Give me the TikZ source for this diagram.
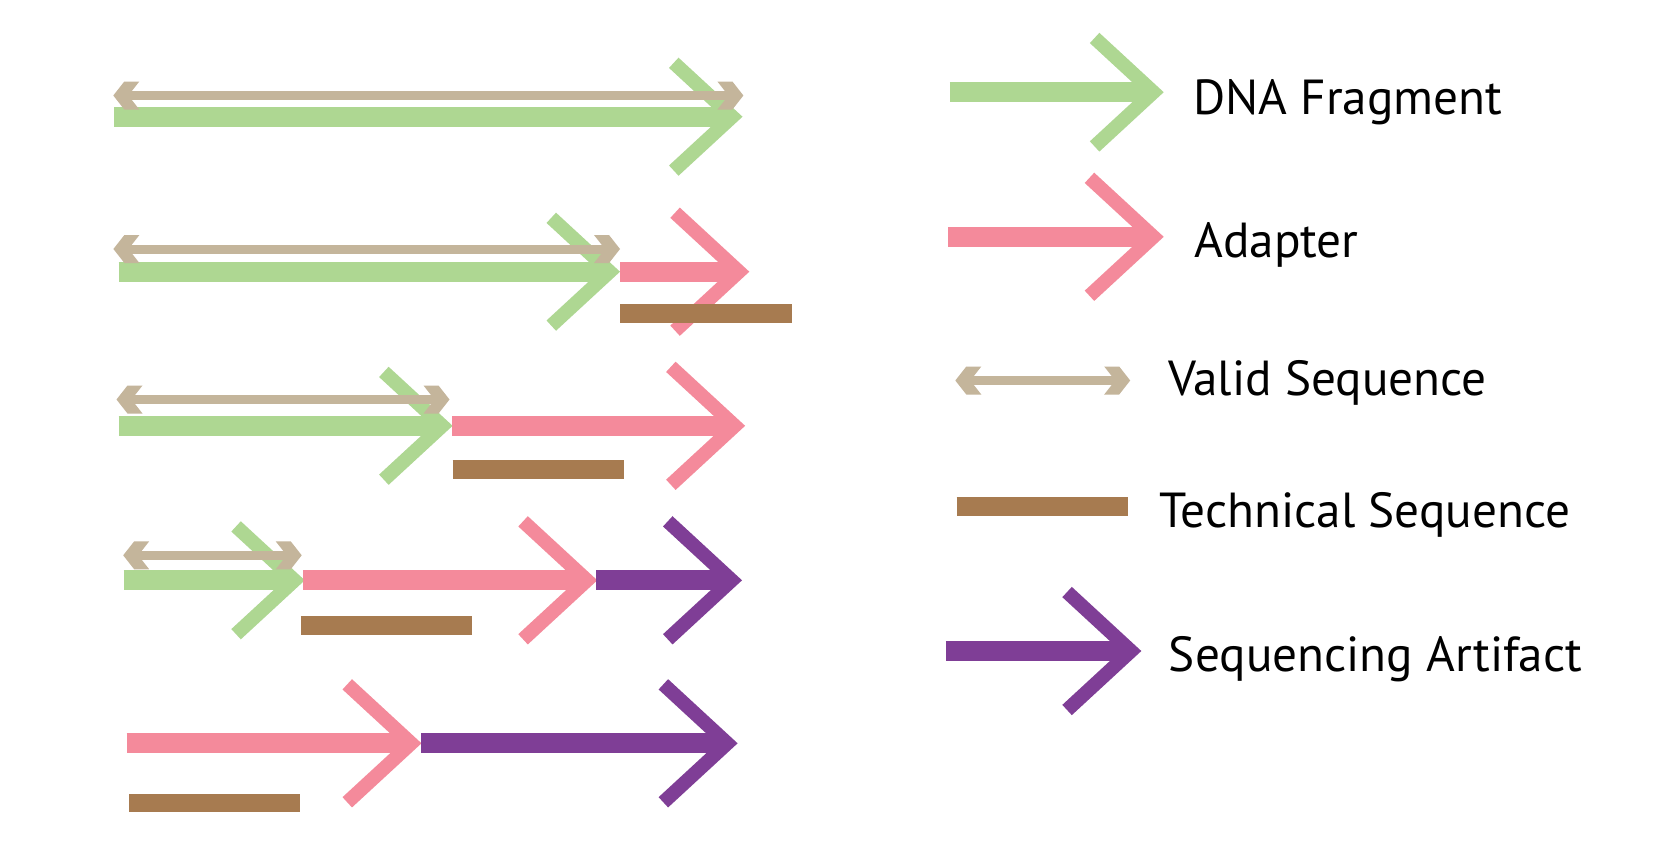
\documentclass[tikz,border=0pt]{standalone}
\usepackage{fontspec}
\setmainfont{PT Sans}
\definecolor{dnagreen}{RGB}{174,215,146}
\definecolor{adpink}{RGB}{244,138,155}
\definecolor{validtan}{RGB}{196,181,155}
\definecolor{techbrown}{RGB}{167,123,80}
\definecolor{artpurple}{RGB}{127,62,150}
\tikzset{
  shaftline/.style={line width=5.69pt, line cap=butt},
  chevline/.style={line width=3.98pt, line cap=butt, line join=miter},
  validline/.style={line width=2.56pt, line cap=butt, draw=validtan},
  techline/.style={line width=5.35pt, line cap=butt, draw=techbrown},
  legendtext/.style={anchor=base west, inner sep=0pt, font=\fontsize{14pt}{16pt}\selectfont}
}
% #1 colour, #2 start x, #3 tip x, #4 y, #5 arm length
\newcommand\dnaseg[5]{%
  \draw[shaftline, draw=#1] (#2,#4) -- ({#3-15},#4);
  \draw[chevline, draw=#1] ({#3-10.3-#5*0.735},{#4-#5*0.678}) -- ({#3-10.3},#4) -- ({#3-10.3-#5*0.735},{#4+#5*0.678});
}
% #1 left tip x, #2 right tip x, #3 y
\newcommand\validseq[3]{%
  \draw[validline] ({#1+10},#3) -- ({#2-10},#3);
  \fill[validtan] (#2,#3) -- ({#2-11},{#3-14}) -- ({#2-26},{#3-14}) -- ({#2-15},#3) -- ({#2-26},{#3+14}) -- ({#2-11},{#3+14}) -- cycle;
  \fill[validtan] (#1,#3) -- ({#1+11},{#3-14}) -- ({#1+26},{#3-14}) -- ({#1+15},#3) -- ({#1+26},{#3+14}) -- ({#1+11},{#3+14}) -- cycle;
}
% #1 x1, #2 x2, #3 y
\newcommand\techseq[3]{%
  \draw[techline] (#1,#3) -- (#2,#3);
}
\begin{document}
\begin{tikzpicture}[x=0.01cm, y=-0.01cm]
\fill[white] (0,0) rectangle (1667,863);
\useasboundingbox (0,0) rectangle (1667,863);

% Row 1
\dnaseg{dnagreen}{114}{742.5}{116.7}{79.5}
\validseq{113.3}{743.4}{95.5}

% Row 2
\dnaseg{dnagreen}{118.7}{620}{271.7}{79.5}
\dnaseg{adpink}{620}{749.3}{271.7}{87}
\validseq{113.4}{620}{249}
\techseq{620}{791.7}{313.3}

% Row 3
\dnaseg{dnagreen}{118.7}{452.6}{425.8}{79.5}
\dnaseg{adpink}{452}{745.1}{425.8}{87}
\validseq{116.5}{449.5}{399.5}
\techseq{452.6}{624}{469.2}

% Row 4
\dnaseg{dnagreen}{123.6}{304.8}{580.3}{79.5}
\dnaseg{adpink}{303}{597.3}{580.3}{87}
\dnaseg{artpurple}{596}{742}{580.3}{87}
\validseq{123.2}{301.7}{555.3}
\techseq{300.8}{472.2}{625.8}

% Row 5
\dnaseg{adpink}{126.7}{421.5}{743.3}{87}
\dnaseg{artpurple}{421}{737.6}{743.3}{87}
\techseq{129}{300}{803}

% Legend
\dnaseg{dnagreen}{949.8}{1163.7}{92.2}{80}
\dnaseg{adpink}{948}{1163.7}{236.8}{87}
\validseq{955.3}{1130.2}{380.5}
\techseq{956.6}{1128.4}{506.8}
\dnaseg{artpurple}{945.8}{1141.3}{651}{87}

\node[legendtext] (lgdna) at (1192.8,114) {DNA Fragment};
\node[legendtext] (lgadapter) at (1193.7,257.1) {Adapter};
\node[legendtext] (lgvalid) at (1167.3,395.8) {Valid Sequence};
\node[legendtext] (lgtech) at (1159.2,527.8) {Technical Sequence};
\node[legendtext] (lgart) at (1168.2,671) {Sequencing Artifact};
\end{tikzpicture}
\end{document}
